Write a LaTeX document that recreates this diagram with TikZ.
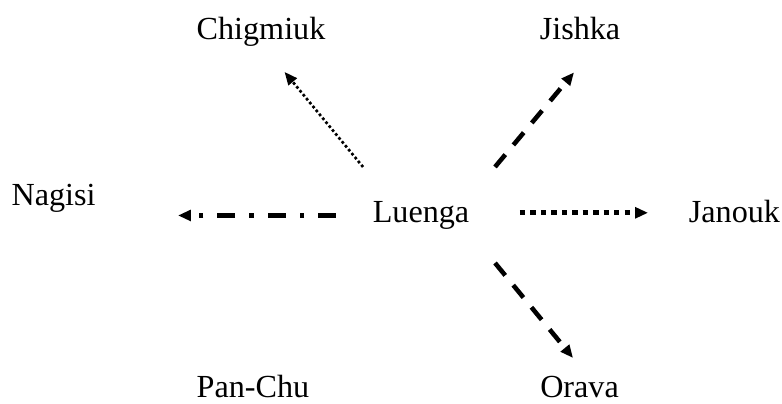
\documentclass[tikz,border=0pt]{standalone}
\usepackage{fontspec}
\setmainfont{Liberation Serif}
\usetikzlibrary{arrows.meta}
\begin{document}
\begin{tikzpicture}[>={Triangle[length=4.8pt,width=4pt]},
  lbl/.style={inner sep=0pt, anchor=base, text height=8.2pt, text depth=2.6pt,
    font=\fontsize{12}{14}\selectfont},
  fine dots/.style={line width=1pt, dash pattern=on 1pt off 0.9pt},
  heavy dots/.style={line width=1.9pt, dash pattern=on 2pt off 1.9pt},
  heavy dashes/.style={line width=1.7pt, dash pattern=on 6pt off 4.7pt},
  heavy dashdot/.style={line width=1.7pt, dash pattern=on 6.7pt off 5.2pt on 1.7pt off 5.2pt}]
\useasboundingbox (-5.521,-2.361) rectangle (4.734,2.924);
\node[lbl] (lu) at (0,0) {Luenga};
\node[lbl] (ja) at (4.111,0) {Janouk};
\node[lbl] (na) at (-4.819,0.223) {Nagisi};
\node[lbl] (ch) at (-2.098,2.400) {Chigmiuk};
\node[lbl] (ji) at (2.085,2.400) {Jishka};
\node[lbl] (pa) at (-2.203,-2.295) {Pan-Chu};
\node[lbl] (or) at (2.079,-2.295) {Orava};
\draw[->, fine dots, shorten <=0.825cm, shorten >=0.672cm]
  ([xshift=-0.235cm]lu.center) -- ([xshift=-0.119cm]ch.center);
\draw[->, heavy dashes, shorten <=0.829cm, shorten >=0.683cm]
  ([xshift=0.439cm]lu.center) -- ([xshift=0.359cm]ji.center);
\draw[->, heavy dots, shorten <=1.298cm, shorten >=1.134cm]
  ([yshift=0.035cm]lu.center) -- ([yshift=0.035cm]ja.center);
\draw[->, heavy dashdot, shorten <=1.115cm, shorten >=1.633cm]
  (lu.center) -- (lu.center -| na.center);
\draw[->, heavy dashes, shorten <=0.806cm, shorten >=0.552cm]
  ([xshift=0.459cm]lu.center) -- ([xshift=0.265cm]or.center);
\end{tikzpicture}
\end{document}
